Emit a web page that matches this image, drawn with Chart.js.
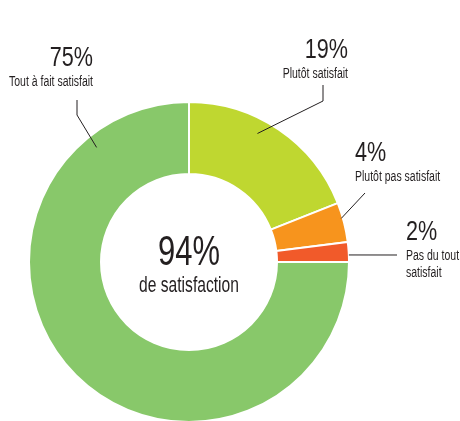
<!DOCTYPE html>
<html>
<head>
<meta charset="utf-8">
<script src="https://cdn.jsdelivr.net/npm/chart.js@4"></script>
<style>
  html, body { margin: 0; padding: 0; background: #fff; overflow: hidden; }
  #wrap { position: relative; width: 460px; height: 425px; }
</style>
</head>
<body>
<div id="wrap"><canvas id="satisfactionChart"></canvas></div>
<script>
// Satisfaction survey data
const categories = ['Plutôt satisfait', 'Plutôt pas satisfait', 'Pas du tout satisfait', 'Tout à fait satisfait'];
const values = [19, 4, 2, 75];
const colors = ['#bfd730', '#f7941d', '#f15a2a', '#88c86a'];
const labelLines = [['Plutôt satisfait'], ['Plutôt pas satisfait'], ['Pas du tout', 'satisfait'], ['Tout à fait satisfait']];
const centerValue = '94%';
const centerText = 'de satisfaction';

const FONT = "'Liberation Sans', Arial, sans-serif";
const INK = '#231f20';

// label placement: text anchor, alignment, leader line elbow and where it meets the slice
const labelPlacement = [
    { x: 348, y: 58, align: 'right', elbow: [[323, 85], [323, 101]], frac: 0.41, rr: 0.91 },
    { x: 355, y: 161, align: 'left', elbow: [[365, 193]], frac: 0.39, rr: 0.99 },
    { x: 406, y: 240, align: 'left', elbow: [[397, 255]], frac: 0.65, rr: 1.0 },
    { x: 93, y: 66, align: 'right', elbow: [[77, 100], [77, 115]], frac: 0.856, rr: 0.92 }
];

// the original uses a condensed face, so squeeze the text horizontally
function condensedText(ctx, text, x, y, size, squeeze) {
    ctx.save();
    ctx.font = size + 'px ' + FONT;
    ctx.translate(x, y);
    ctx.scale(squeeze, 1);
    ctx.fillText(text, 0, 0);
    ctx.restore();
}

const annotations = {
    id: 'annotations',
    afterDraw(chart) {
        const ctx = chart.ctx;
        const arcs = chart.getDatasetMeta(0).data;
        ctx.save();
        ctx.fillStyle = INK;
        ctx.strokeStyle = INK;
        ctx.lineWidth = 1;

        arcs.forEach((arc, i) => {
            const p = labelPlacement[i];
            const { x, y, startAngle, endAngle, outerRadius } = arc.getProps(['x', 'y', 'startAngle', 'endAngle', 'outerRadius'], true);
            const a = startAngle + (endAngle - startAngle) * p.frac;
            const r = outerRadius * p.rr;
            const tip = [x + Math.cos(a) * r, y + Math.sin(a) * r];

            ctx.beginPath();
            ctx.moveTo(p.elbow[0][0], p.elbow[0][1]);
            for (let k = 1; k < p.elbow.length; k++) ctx.lineTo(p.elbow[k][0], p.elbow[k][1]);
            ctx.lineTo(tip[0], tip[1]);
            ctx.stroke();

            ctx.textAlign = p.align;
            ctx.textBaseline = 'alphabetic';
            condensedText(ctx, values[i] + '%', p.x, p.y, 27, 0.8);
            labelLines[i].forEach((line, j) => {
                condensedText(ctx, line, p.x, p.y + 20 + j * 17, 14, 0.75);
            });
        });

        // centre text
        const cx = arcs[0].x, cy = arcs[0].y;
        ctx.textAlign = 'center';
        condensedText(ctx, centerValue, cx, cy + 3, 43, 0.72);
        condensedText(ctx, centerText, cx, cy + 30, 22, 0.71);
        ctx.restore();
    }
};

const ctx = document.getElementById('satisfactionChart').getContext('2d');
const chart = new Chart(ctx, {
    type: 'doughnut',
    data: {
        labels: categories,
        datasets: [{
            data: values,
            backgroundColor: colors,
            borderColor: '#ffffff',
            borderWidth: 2,
            hoverOffset: 0
        }]
    },
    options: {
        responsive: true,
        maintainAspectRatio: false,
        animation: false,
        cutout: '55%',
        layout: { padding: { left: 28, right: 110, top: 101, bottom: 2 } },
        plugins: {
            legend: { display: false },
            tooltip: { enabled: false }
        }
    },
    plugins: [annotations]
});
</script>
</body>
</html>
